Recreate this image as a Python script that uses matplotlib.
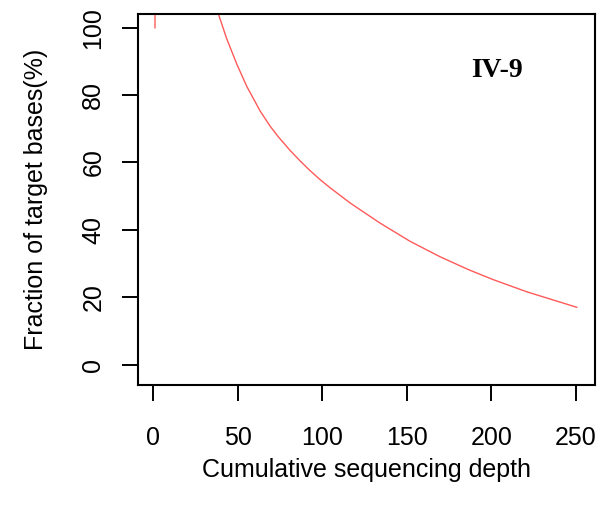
import matplotlib
matplotlib.use("Agg")
import matplotlib.pyplot as plt

# ---- values (depth, % of target bases) ----
depth = [1, 1, 2, 10, 20, 30, 34, 38.5, 43.4, 49.4, 55.3, 63.2, 69.1, 74.0,
         80.9, 86.8, 92.7, 98.7, 104.6, 116.4, 122.3, 134.2, 151.9, 169.7,
         186.4, 201.2, 221.0, 250.6]
fraction = [100, 100, 500, 200, 145, 118, 111, 104.1, 96.8, 89.2, 82.6, 75.3,
            70.8, 67.6, 63.6, 60.5, 57.6, 54.9, 52.5, 48.0, 46.0, 42.0, 36.6,
            32.0, 28.2, 25.2, 21.6, 17.0]

x_ticks = [0, 50, 100, 150, 200, 250]
y_ticks = [0, 20, 40, 60, 80, 100]

plt.rcParams["font.family"] = ["Liberation Sans", "DejaVu Sans"]

fig = plt.figure(figsize=(6.15, 5.17), dpi=100)
ax = fig.add_axes([0.2244, 0.2553, 0.7431, 0.7176])

ax.plot(depth, fraction, color="#ff5a5a", linewidth=1.0)

ax.set_xlim(-9.06, 261.4)
ax.set_ylim(-6.08, 104.08)

ax.set_xticks(x_ticks)
ax.set_xticklabels([str(t) for t in x_ticks], fontsize=18)
ax.set_yticks(y_ticks)
ax.set_yticklabels([str(t) for t in y_ticks], fontsize=18, rotation=90, va="center")

ax.tick_params(axis="x", length=11.5, width=1.4, pad=18)
ax.tick_params(axis="y", length=11.5, width=1.4, pad=12)
for s in ax.spines.values():
    s.set_linewidth(1.5)

ax.set_xlabel("Cumulative sequencing depth", fontsize=18, labelpad=6)
ax.set_ylabel("Fraction of target bases(%)", fontsize=18, labelpad=24)

ax.text(0.785, 0.849, "IV-9", transform=ax.transAxes, ha="center", va="center",
        fontsize=20, fontweight="bold", family="Liberation Serif")

fig.savefig("out.png", dpi=100)
